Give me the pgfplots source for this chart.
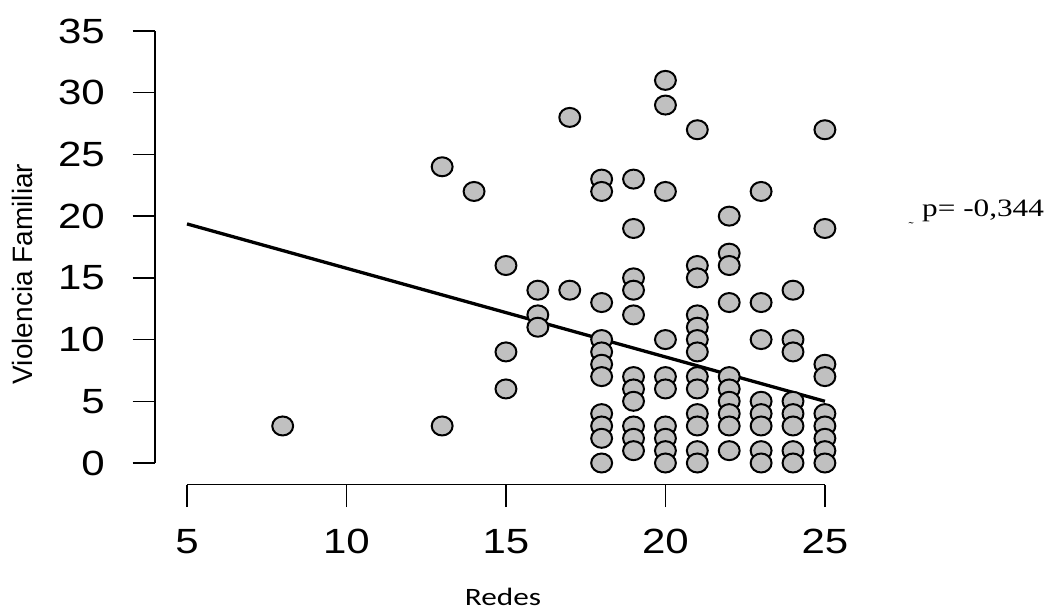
\documentclass[border=0pt]{standalone}
\usepackage{pgfplots}
\pgfplotsset{compat=1.18}
\usepackage{fontspec}
\setmainfont{Liberation Sans}
\newfontfamily\tickfont[FakeStretch=1.2]{Liberation Sans}
\newfontfamily\redesfont[FakeStretch=1.25]{Carlito}
\newfontfamily\pfont[FakeStretch=1.25]{Liberation Serif}
\definecolor{ptfill}{HTML}{C0C0C0}
\begin{document}
\begin{tikzpicture}
\useasboundingbox (0,0) rectangle (1050pt,-612pt);
\begin{axis}[
  at={(155.1pt,-484.6pt)}, anchor=south west,
  scale only axis, width=701.7pt, height=453.6pt,
  xmin=4, xmax=26, ymin=-1.75, ymax=35,
  clip=false,
  axis line style={draw=none},
  xtick pos=bottom, ytick pos=left,
  xtick={5,10,15,20,25}, ytick={0,5,10,15,20,25,30,35},
  tick align=outside, major tick length=22.5pt,
  tick style={black, line width=1.5pt},
  /pgf/number format/assume math mode=true,
  ticklabel style={font=\tickfont\fontsize{35}{35}\selectfont, inner sep=0pt},
  xticklabel style={anchor=north},
  yticklabel style={anchor=east},
  xticklabel shift=22pt, yticklabel shift=27.6pt,
  xlabel={Redes},
  xlabel style={font=\redesfont\fontsize{25}{25}\selectfont, inner sep=0pt, anchor=center, at={(axis description cs:0.4958,-0.2478)}},
  ylabel={Violencia Familiar},
  ylabel style={font=\fontsize{28}{28}\selectfont, inner sep=0pt, anchor=center, at={(axis description cs:-0.1883,0.4643)}},
]
\draw[black, line width=1.5pt] (axis cs:5,-1.75) -- (axis cs:25,-1.75);
\draw[black, line width=1.5pt] (axis cs:4,0) -- (axis cs:4,35);
\addplot[only marks, mark=*, mark size=9.5pt,
  mark options={fill=ptfill, draw=black, line width=2pt, xscale=1.1}]
  coordinates {
  (8,3)
  (13,24) (13,3)
  (14,22)
  (15,16) (15,9) (15,6)
  (16,14) (16,12) (16,11)
  (17,28) (17,14)
  (18,23) (18,22) (18,13) (18,10) (18,9) (18,8) (18,7) (18,4) (18,3) (18,2) (18,0)
  (19,23) (19,19) (19,15) (19,14) (19,12) (19,7) (19,6) (19,5) (19,3) (19,2) (19,1)
  (20,31) (20,29) (20,22) (20,10) (20,7) (20,6) (20,3) (20,2) (20,1) (20,0)
  (21,27) (21,16) (21,15) (21,12) (21,11) (21,10) (21,9) (21,7) (21,6) (21,4) (21,3) (21,1) (21,0)
  (22,20) (22,17) (22,16) (22,13) (22,7) (22,6) (22,5) (22,4) (22,3) (22,1)
  (23,22) (23,13) (23,10) (23,5) (23,4) (23,3) (23,1) (23,0)
  (24,14) (24,10) (24,9) (24,5) (24,4) (24,3) (24,1) (24,0)
  (25,27) (25,19) (25,8) (25,7) (25,4) (25,3) (25,2) (25,1) (25,0)
  };
\addplot[black, line width=3.3pt, mark=none] coordinates {(5,19.37) (25,5.0)};
\end{axis}
\node[anchor=base west, inner sep=0pt, font=\pfont\fontsize{25}{25}\selectfont] at (922pt,-217pt) {p= -0,344};
\node[inner sep=0pt, font=\pfont\fontsize{12}{12}\selectfont] at (911pt,-226pt) {\char"02DC};
\end{tikzpicture}
\end{document}
